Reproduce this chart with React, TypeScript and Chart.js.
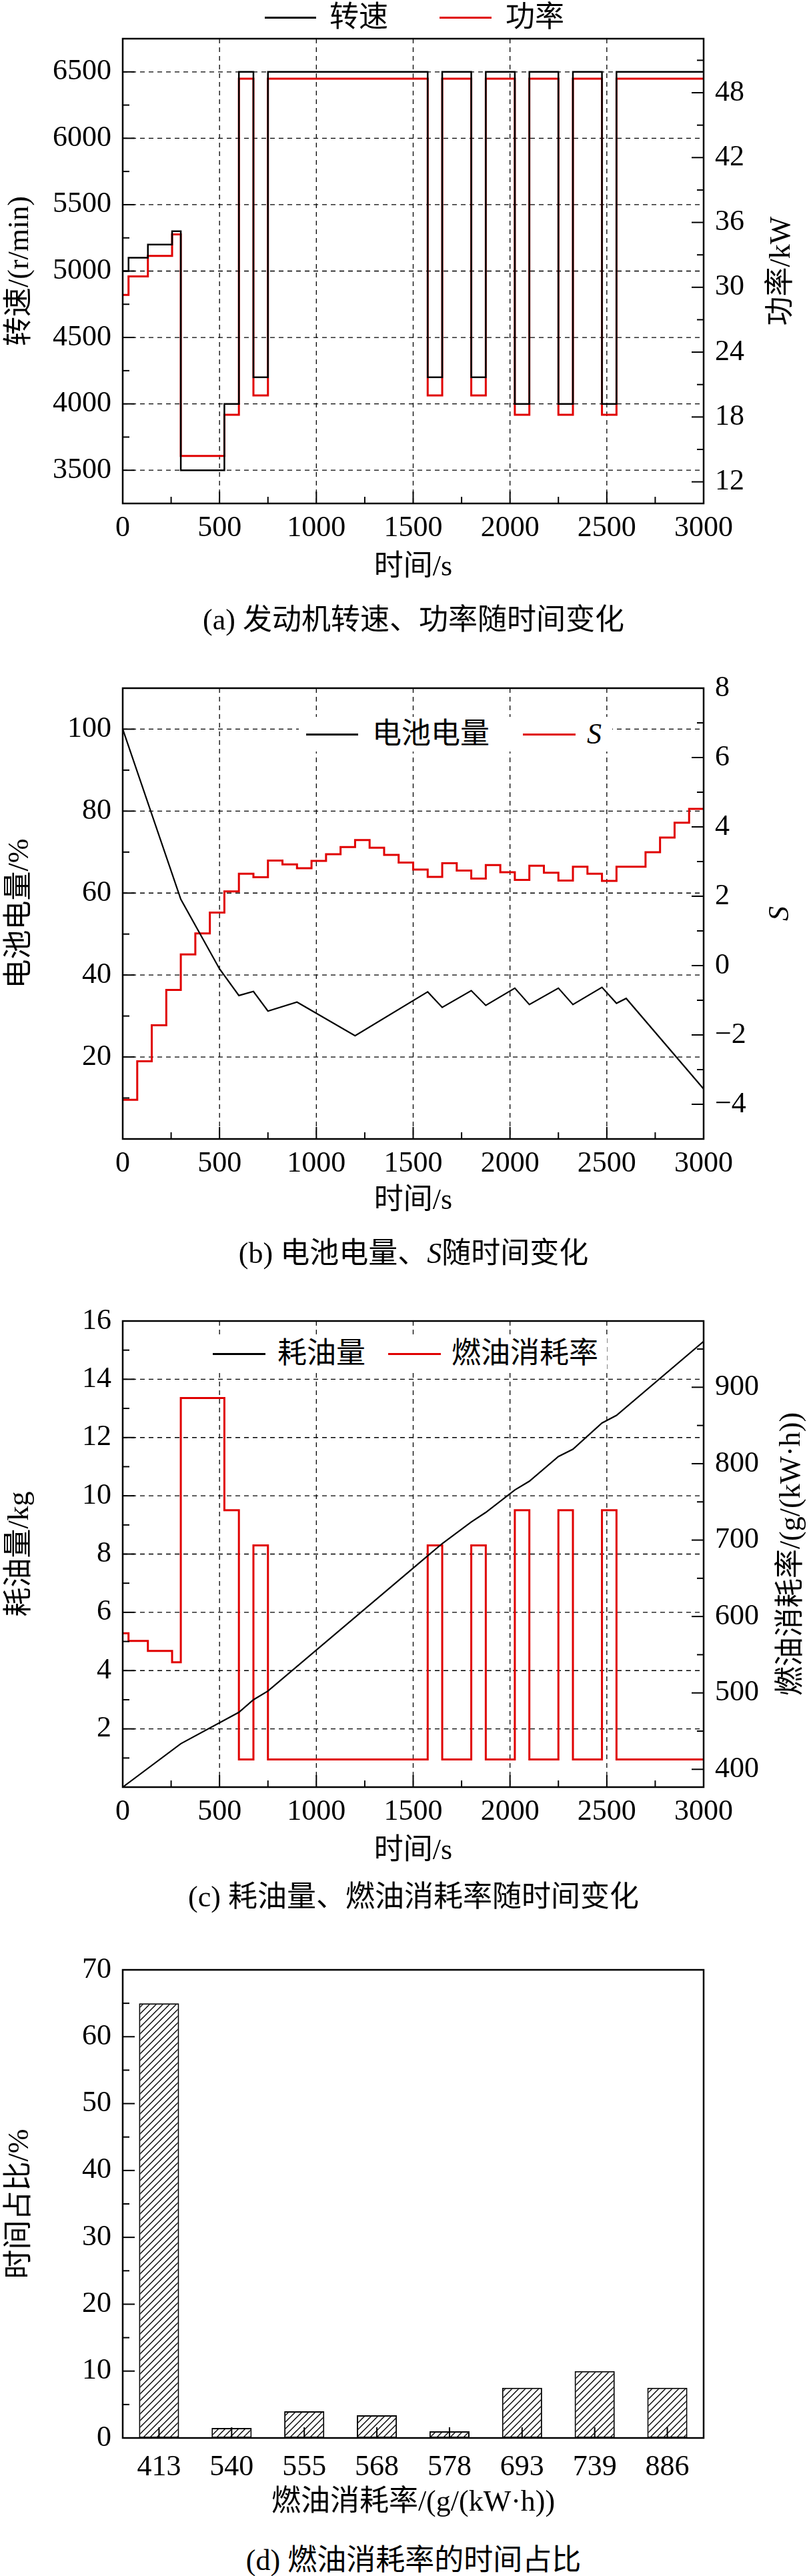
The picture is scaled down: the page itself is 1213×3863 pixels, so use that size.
import React, { useEffect, useRef } from "react";
import { Chart, registerables } from "chart.js";
Chart.register(...registerables);

// ---------- data ----------
const stepTimes = [0, 30, 130, 255, 300, 525, 600, 675, 750, 1575, 1650, 1800, 1875, 2025, 2100, 2250, 2325, 2475, 2550, 3000];
const speedValues = [5000, 5100, 5200, 5300, 3500, 4000, 6500, 4200, 6500, 4200, 6500, 4200, 6500, 4000, 6500, 4000, 6500, 4000, 6500, 6500];
const powerValues = [29.3, 31, 32.9, 34.9, 14.4, 18.2, 49.3, 20, 49.3, 20, 49.3, 20, 49.3, 18.2, 49.3, 18.2, 49.3, 18.2, 49.3, 49.3];
const bsfcValues = [578, 568, 555, 540, 886, 739, 413, 693, 413, 693, 413, 693, 413, 739, 413, 739, 413, 739, 413, 413];

const socTimes = [0, 300, 500, 600, 675, 750, 900, 1200, 1575, 1650, 1800, 1875, 2025, 2100, 2250, 2325, 2475, 2550, 2600, 3000];
const socValues = [100, 58.5, 41.5, 35, 36, 31.2, 33.4, 25.2, 35.9, 32.1, 36.2, 32.6, 36.8, 32.8, 36.8, 32.8, 37, 33.1, 34.3, 12.2];

const sTimes = [0, 75, 150, 225, 300, 375, 450, 525, 600, 675, 750, 825, 900, 975, 1050, 1125, 1200, 1275, 1350, 1425, 1500, 1575, 1650, 1725, 1800, 1875, 1950, 2025, 2100, 2175, 2250, 2325, 2400, 2475, 2550, 2700, 2775, 2850, 2925, 3000];
const sValues = [-3.87, -2.76, -1.72, -0.7, 0.32, 0.93, 1.53, 2.14, 2.65, 2.55, 3.03, 2.92, 2.81, 3.02, 3.21, 3.42, 3.62, 3.4, 3.19, 2.97, 2.77, 2.56, 2.95, 2.74, 2.51, 2.9, 2.69, 2.47, 2.88, 2.68, 2.45, 2.85, 2.65, 2.44, 2.85, 3.27, 3.69, 4.12, 4.52, 4.52];

const fuelTimes = [0, 300, 600, 675, 750, 1575, 1650, 1800, 1875, 2025, 2100, 2250, 2325, 2475, 2550, 3000];
const fuelValues = [0, 1.49, 2.57, 3.0, 3.3, 7.94, 8.36, 9.1, 9.43, 10.2, 10.5, 11.35, 11.6, 12.5, 12.76, 15.3];

const bsfcCategories = ["413", "540", "555", "568", "578", "693", "739", "886"];
const timeShare = [65, 1.5, 4, 3.4, 1, 7.5, 10, 7.5];

const FONT = "'Liberation Serif', 'Noto Sans CJK SC', serif";
const FS = 44;
const PL = 184, PR = 1055, W = 1213;

const pts = (xs: number[], ys: number[]) => xs.map((x, i) => ({ x, y: ys[i] }));
const range = (a: number, b: number, s: number) => { const r: number[] = []; for (let v = a; v <= b + 1e-9; v += s) r.push(+v.toFixed(6)); return r; };
const fmt = (v: number) => (v < 0 ? "\u2212" + Math.abs(v) : String(v));

function framePlugin(minor: Record<string, number[]>, grids: string[], rightTitle?: { text: string; italic?: boolean; x: number }) {
  return {
    id: "frame",
    beforeDatasetsDraw(chart: any) {
      const ctx = chart.ctx, a = chart.chartArea;
      ctx.save();
      ctx.strokeStyle = "#000"; ctx.lineWidth = 1.3; ctx.setLineDash([7, 6]);
      for (const id of grids) {
        const s = chart.scales[id];
        s.ticks.forEach((t: any) => {
          const p = s.getPixelForValue(t.value);
          ctx.beginPath();
          if (s.axis === "x") { if (p <= a.left + 1 || p >= a.right - 1) return; ctx.moveTo(p, a.top); ctx.lineTo(p, a.bottom); }
          else { if (p <= a.top + 1 || p >= a.bottom - 1) return; ctx.moveTo(a.left, p); ctx.lineTo(a.right, p); }
          ctx.stroke();
        });
      }
      ctx.restore();
    },
    afterDraw(chart: any) {
      const ctx = chart.ctx, a = chart.chartArea;
      ctx.save();
      ctx.strokeStyle = "#000";
      ctx.lineWidth = 2;
      const tick = (id: string, v: number, len: number) => {
        const s = chart.scales[id];
        if (!s) return;
        const p = s.getPixelForValue(v);
        ctx.beginPath();
        if (s.axis === "x") { ctx.moveTo(p, a.bottom); ctx.lineTo(p, a.bottom - len); }
        else if (s.position === "left") { ctx.moveTo(a.left, p); ctx.lineTo(a.left + len, p); }
        else { ctx.moveTo(a.right, p); ctx.lineTo(a.right - len, p); }
        ctx.stroke();
      };
      for (const id of Object.keys(chart.scales)) {
        const s = chart.scales[id];
        if (s.type === "category") {
          s.ticks.forEach((_t: any, i: number) => {
            const p = s.getPixelForTick(i);
            ctx.beginPath(); ctx.moveTo(p, a.bottom); ctx.lineTo(p, a.bottom - 16); ctx.stroke();
          });
          continue;
        }
        if (!s.options.display) continue;
        s.ticks.forEach((t: any) => tick(id, t.value, 18));
        (minor[id] || []).forEach((v) => tick(id, v, 10));
      }
      ctx.lineWidth = 2.5;
      ctx.strokeRect(a.left, a.top, a.right - a.left, a.bottom - a.top);
      if (rightTitle) {
        ctx.translate(rightTitle.x, (a.top + a.bottom) / 2);
        ctx.rotate(-Math.PI / 2);
        ctx.fillStyle = "#000";
        ctx.font = `${rightTitle.italic ? "italic " : ""}${FS}px ${FONT}`;
        ctx.textAlign = "center"; ctx.textBaseline = "middle";
        ctx.fillText(rightTitle.text, 0, 0);
      }
      ctx.restore();
    },
  };
}

function yAxis(pos: "left" | "right", min: number, max: number, ticks: number[], title: string) {
  return {
    type: "linear", position: pos, min, max,
    afterBuildTicks: (s: any) => { s.ticks = ticks.map((v) => ({ value: v })); },
    afterFit: (s: any) => { s.width = pos === "left" ? PL : W - PR; },
    grid: { display: false, drawTicks: false },
    border: { display: false },
    ticks: { padding: 17, color: "#000", font: { family: FONT, size: FS }, callback: (v: any) => fmt(v) },
    title: { display: pos === "left", text: title, color: "#000", padding: { top: 4, bottom: 4 }, font: { family: FONT, size: FS } },
  };
}
function xAxis(h: number, title: string) {
  return {
    type: "linear", position: "bottom", min: 0, max: 3000,
    afterBuildTicks: (s: any) => { s.ticks = range(0, 3000, 500).map((v) => ({ value: v })); },
    afterFit: (s: any) => { s.height = h; },
    grid: { display: false, drawTicks: false },
    border: { display: false },
    ticks: { padding: 11, color: "#000", maxRotation: 0, font: { family: FONT, size: FS }, callback: (v: any) => String(v) },
    title: { display: true, text: title, color: "#000", padding: { top: 2, bottom: 2 }, font: { family: FONT, size: FS } },
  };
}

type Spec = { top: number; height: number; plotTop: number; plotBottom: number; build: (ctx: CanvasRenderingContext2D) => any };

const line = (data: any, color: string, axis: string, stepped: any, width: number) => ({
  type: "line", data, borderColor: color, borderWidth: width, pointRadius: 0, stepped, yAxisID: axis, tension: 0, fill: false,
});

const specs: Spec[] = [
  {
    top: 0, height: 880, plotTop: 58, plotBottom: 755,
    build: () => ({
      type: "line",
      data: { datasets: [line(pts(stepTimes, speedValues), "#000", "y", "before", 2.5), line(pts(stepTimes, powerValues), "#e00000", "y2", "before", 3)] },
      options: {
        scales: {
          x: xAxis(880 - 755, "时间/s"),
          y: yAxis("left", 3250, 6750, range(3500, 6500, 500), "转速/(r/min)"),
          y2: yAxis("right", 10, 53, range(12, 48, 6), "功率/kW"),
        },
      },
      minor: { x: range(250, 2750, 500), y: range(3250, 6750, 500), y2: range(15, 51, 6) },
      grids: ["x", "y"],
      rightTitle: { text: "功率/kW", x: 1172 },
    }),
  },
  {
    top: 950, height: 880, plotTop: 1032, plotBottom: 1708,
    build: () => ({
      type: "line",
      data: { datasets: [line(pts(socTimes, socValues), "#000", "y", false, 2.2), line(pts(sTimes, sValues), "#e00000", "y2", "before", 3)] },
      options: {
        scales: {
          x: xAxis(1830 - 1708, "时间/s"),
          y: yAxis("left", 0, 110, range(20, 100, 20), "电池电量/%"),
          y2: yAxis("right", -5, 8, range(-4, 8, 2), "S"),
        },
      },
      minor: { x: range(250, 2750, 500), y: range(10, 110, 20), y2: range(-5, 7, 2) },
      grids: ["x", "y"],
      rightTitle: { text: "S", italic: true, x: 1170 },
    }),
  },
  {
    top: 1900, height: 905, plotTop: 1981, plotBottom: 2680,
    build: () => ({
      type: "line",
      data: { datasets: [line(pts(fuelTimes, fuelValues), "#000", "y", false, 2.2), line(pts(stepTimes, bsfcValues), "#e00000", "y2", "before", 3)] },
      options: {
        scales: {
          x: xAxis(2805 - 2680, "时间/s"),
          y: yAxis("left", 0, 16, range(2, 16, 2), "耗油量/kg"),
          y2: yAxis("right", 376.7, 986.7, range(400, 900, 100), "燃油消耗率/(g/(kW·h))"),
        },
      },
      minor: { x: range(250, 2750, 500), y: range(1, 15, 2), y2: range(450, 950, 100) },
      grids: ["x", "y"],
      rightTitle: { text: "燃油消耗率/(g/(kW·h))", x: 1187 },
    }),
  },
  {
    top: 2850, height: 932, plotTop: 2954, plotBottom: 3656,
    build: (ctx) => {
      const pc = document.createElement("canvas");
      pc.width = 10; pc.height = 10;
      const p = pc.getContext("2d")!;
      p.fillStyle = "#fff"; p.fillRect(0, 0, 10, 10);
      p.strokeStyle = "#000"; p.lineWidth = 1.4;
      p.beginPath(); p.moveTo(0, 10); p.lineTo(10, 0); p.moveTo(-5, 5); p.lineTo(5, -5); p.moveTo(5, 15); p.lineTo(15, 5); p.stroke();
      const pattern = ctx.createPattern(pc, "repeat");
      return {
        type: "bar",
        data: { labels: bsfcCategories, datasets: [{ data: timeShare, backgroundColor: pattern, borderColor: "#000", borderWidth: 2, borderSkipped: false, barPercentage: 0.6, categoryPercentage: 0.92 }] },
        options: {
          scales: {
            x: {
              type: "category", position: "bottom", offset: true,
              afterFit: (s: any) => { s.height = 3782 - 3656; },
              grid: { display: false, drawTicks: false }, border: { display: false },
              ticks: { padding: 18, color: "#000", font: { family: FONT, size: FS } },
              title: { display: true, text: "燃油消耗率/(g/(kW·h))", color: "#000", padding: { top: 2, bottom: 2 }, font: { family: FONT, size: FS } },
            },
            y: yAxis("left", 0, 70, range(0, 70, 10), "时间占比/%"),
            y2: { display: false, position: "right", min: 0, max: 70 },
          },
          layout: {},
        },
        minor: { y: range(5, 65, 10) },
        grids: [],
        padRight: W - PR,
      };
    },
  },
];

function Panel({ spec }: { spec: Spec }) {
  const ref = useRef<HTMLCanvasElement>(null);
  useEffect(() => {
    const canvas = ref.current!;
    const cfg = spec.build(canvas.getContext("2d")!);
    const minor = cfg.minor || {};
    const grids = cfg.grids || [];
    const rt = cfg.rightTitle;
    const padRight = cfg.padRight || 0;
    delete cfg.minor; delete cfg.grids; delete cfg.rightTitle; delete cfg.padRight;
    cfg.options = {
      ...cfg.options,
      responsive: false, animation: false, maintainAspectRatio: false,
      layout: { padding: { top: spec.plotTop - spec.top, left: 0, right: padRight, bottom: 0 } },
      plugins: { legend: { display: false }, tooltip: { enabled: false } },
    };
    cfg.plugins = [framePlugin(minor, grids, rt)];
    const chart = new Chart(canvas, cfg);
    return () => chart.destroy();
  }, [spec]);
  return <canvas ref={ref} width={W} height={spec.height} style={{ position: "absolute", left: 0, top: spec.top, width: W, height: spec.height }} />;
}

const txt: React.CSSProperties = { position: "absolute", fontFamily: FONT, fontSize: FS, lineHeight: "50px", whiteSpace: "nowrap", color: "#000" };

function LegendItem({ x1, x2, tx, y, color, children }: any) {
  return (
    <>
      <div style={{ position: "absolute", left: x1, top: y - 1.5, width: x2 - x1, height: 0, borderTop: `3px solid ${color}` }} />
      <div style={{ ...txt, left: tx, top: y - 25 }}>{children}</div>
    </>
  );
}

function Caption({ y, children }: any) {
  return <div style={{ ...txt, left: 620, top: y - 25, transform: "translateX(-50%)" }}>{children}</div>;
}

export default function App() {
  useEffect(() => { document.body.style.margin = "0"; }, []);
  return (
    <div style={{ position: "relative", width: W, height: 3863, background: "#fff", overflow: "hidden" }}>
      {specs.map((s, i) => <Panel key={i} spec={s} />)}
      <LegendItem x1={397} x2={474} tx={494} y={26} color="#000">转速</LegendItem>
      <LegendItem x1={659} x2={737} tx={758} y={26} color="#e00000">功率</LegendItem>
      <div style={{ position: "absolute", left: 448, top: 1075, width: 470, height: 52, background: "#fff" }} />
      <LegendItem x1={459} x2={537} tx={558} y={1101} color="#000">电池电量</LegendItem>
      <LegendItem x1={784} x2={863} tx={880} y={1101} color="#e00000"><i>S</i></LegendItem>
      <div style={{ position: "absolute", left: 310, top: 2004, width: 600, height: 52, background: "#fff" }} />
      <LegendItem x1={319} x2={398} tx={416} y={2030} color="#000">耗油量</LegendItem>
      <LegendItem x1={582} x2={661} tx={677} y={2030} color="#e00000">燃油消耗率</LegendItem>
      <Caption y={930}>(a) 发动机转速、功率随时间变化</Caption>
      <Caption y={1880}>(b) 电池电量、<i>S</i>随时间变化</Caption>
      <Caption y={2845}>(c) 耗油量、燃油消耗率随时间变化</Caption>
      <Caption y={3840}>(d) 燃油消耗率的时间占比</Caption>
    </div>
  );
}
